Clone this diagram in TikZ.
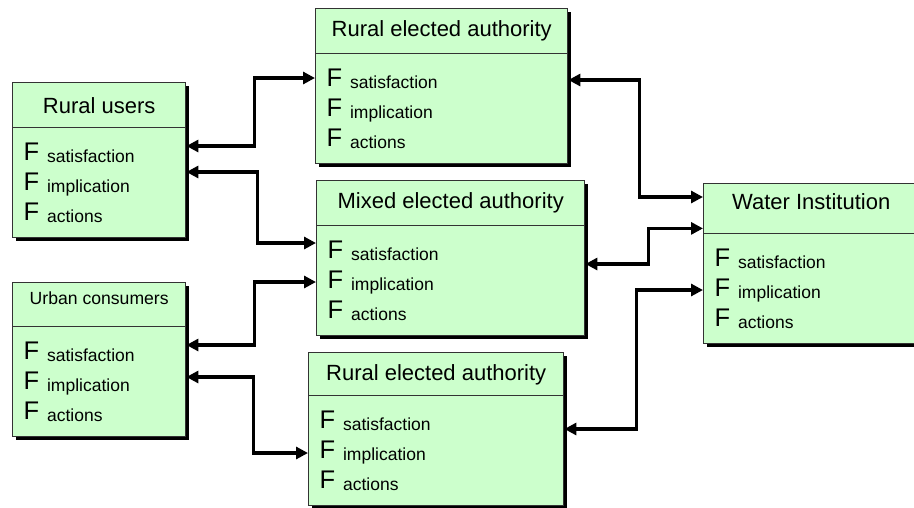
\documentclass[tikz,border=0pt]{standalone}
\usepackage{fontspec}
\setmainfont{Liberation Sans}
\usetikzlibrary{arrows.meta,shadows}

\definecolor{boxgreen}{HTML}{CCFFCC}
\definecolor{boxline}{HTML}{333333}

% one line "F index"
\newcommand{\frow}[1]{{\fontsize{25.5}{30}\selectfont F }\hspace{2pt}\raisebox{-2.5pt}{#1}}
\newcommand{\frows}{\frow{satisfaction}\\ \frow{implication}\\ \frow{actions}}

\tikzset{
  cell/.style={draw=boxline, line width=1.4pt, fill=boxgreen, anchor=north west,
    drop shadow={shadow xshift=3pt, shadow yshift=-3pt, fill=black, opacity=1}},
  head/.style={cell, font=\fontsize{22}{26}\selectfont, minimum height=45pt, inner sep=0pt},
  body/.style={cell, font=\fontsize{17.5}{30}\selectfont, align=left,
    inner xsep=11pt, inner ysep=0pt, minimum height=110pt},
  link/.style={line width=3.1pt, {Triangle[length=12pt,width=12pt]}-{Triangle[length=12pt,width=12pt]}}
}

\begin{document}
\begin{tikzpicture}[x=1pt,y=-1pt]
    \useasboundingbox (0,0) rectangle (914,507);

    % Rural users
    \node[head, minimum width=173pt] (ruh) at (12,82) {Rural users};
    \node[body, text width=151pt] (rub) at (12,127) {\frows};

    % Urban consumers
    \node[head, minimum width=173pt, font=\fontsize{17.6}{22}\selectfont,
      text height=13pt, text depth=14pt] (uch) at (12,282) {Urban consumers};
    \node[body, text width=151pt] (ucb) at (12,326) {\frows};

    % Rural elected authority (top)
    \node[head, minimum width=252pt] (rah) at (315,8) {Rural elected authority};
    \node[body, text width=230pt] (rab) at (315,53) {\frows};

    % Mixed elected authority
    \node[head, minimum width=268pt] (mah) at (316,180) {Mixed elected authority};
    \node[body, text width=246pt] (mab) at (316,225) {\frows};

    % Rural elected authority (bottom)
    \node[head, minimum width=255pt] (rbh) at (308,352) {Rural elected authority};
    \node[body, text width=233pt] (rbb) at (308,395) {\frows};

    % Water Institution
    \node[head, minimum width=215pt, minimum height=50pt,
      text height=16pt, text depth=14pt] (wih) at (703,183) {Water Institution};
    \node[body, text width=193pt] (wib) at (703,233) {\frows};

    % Links on the left
    \draw[link] ([yshift=-19pt]rub.north east) -- ++(68,0) |- ([yshift=-25pt]rab.north west);
    \draw[link] ([yshift=-45pt]rub.north east) -- ++(71,0) |- ([yshift=-18pt]mab.north west);
    \draw[link] ([yshift=-19pt]ucb.north east) -- ++(68,0) |- ([yshift=-57pt]mab.north west);
    \draw[link] ([yshift=-51pt]ucb.north east) -- ++(67,0) |- ([yshift=-58pt]rbb.north west);

    % Links on the right
    \draw[link] ([yshift=-27pt]rab.north east) -- ++(71,0) |- ([yshift=-14pt]wih.north west);
    \draw[link] ([yshift=-39pt]mab.north east) -- ++(63,0) |- ([yshift=6pt]wih.south west);
    \draw[link] ([yshift=-34pt]rbb.north east) -- ++(72,0) |- ([yshift=-57pt]wib.north west);
\end{tikzpicture}
\end{document}
